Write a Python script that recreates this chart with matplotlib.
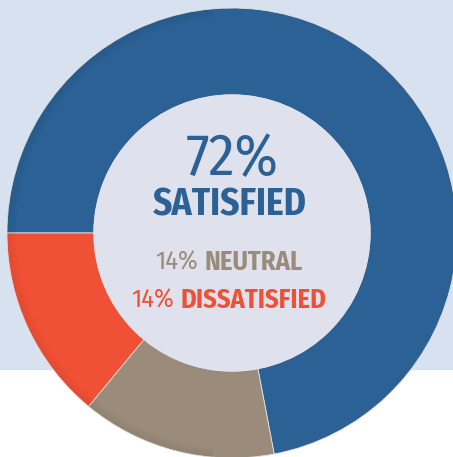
import matplotlib
matplotlib.use('Agg')
import matplotlib.pyplot as plt
from matplotlib.patches import Circle, Rectangle, Wedge

# Data
labels = ['SATISFIED', 'NEUTRAL', 'DISSATISFIED']
shares = [72, 14, 14]
colors = ['#2b6195', '#9a8b7a', '#f05036']

W, H = 453, 457
cx, cy = 232, 224
r_out, r_in = 225, 138
FONT = ['Fira Sans Condensed', 'DejaVu Sans']

fig = plt.figure(figsize=(W / 100, H / 100), dpi=100, facecolor='white')
ax = fig.add_axes([0, 0, 1, 1])
ax.add_patch(Rectangle((0, 88), W, H - 88, color='#d8e1ef', zorder=0))

ax.pie(shares, colors=colors, startangle=180, counterclock=False,
       radius=r_out, center=(cx, cy),
       wedgeprops=dict(width=r_out - r_in, edgecolor='#e6e2dc', linewidth=0.6, zorder=1))

# soft shading on the outer left rim
for k in range(8):
    ax.add_patch(Wedge((cx, cy), r_out - k * 1.2, 95, 265, width=1.2,
                       color='black', alpha=0.06 * (8 - k) / 8, lw=0, zorder=2))

ax.add_patch(Circle((cx, cy), r_in, color='#dfe2ed', zorder=3))

ax.set_xlim(0, W)
ax.set_ylim(0, H)
ax.set_aspect('auto')
ax.axis('off')

ax.text(cx, 282, f'{shares[0]}%', ha='center', va='baseline', fontsize=42,
        color=colors[0], family=FONT, weight='normal', zorder=4)
ax.text(cx - 2, 242, labels[0], ha='center', va='baseline', fontsize=27,
        color=colors[0], family=FONT, weight='bold', zorder=4)


def two_part(y, pct, word, color, size=19, gap=6, mid=229):
    a = ax.text(0, y, pct, ha='left', va='baseline', fontsize=size,
                color=color, family=FONT, weight='normal', zorder=4)
    b = ax.text(0, y, word, ha='left', va='baseline', fontsize=size,
                color=color, family=FONT, weight='bold', zorder=4)
    r = fig.canvas.get_renderer()
    wa = a.get_window_extent(r).width
    wb = b.get_window_extent(r).width
    x0 = mid - (wa + gap + wb) / 2
    a.set_x(x0)
    b.set_x(x0 + wa + gap)


two_part(187, f'{shares[1]}%', labels[1], colors[1])
two_part(149, f'{shares[2]}%', labels[2], colors[2])

fig.savefig('out.png', dpi=100, facecolor='white')
